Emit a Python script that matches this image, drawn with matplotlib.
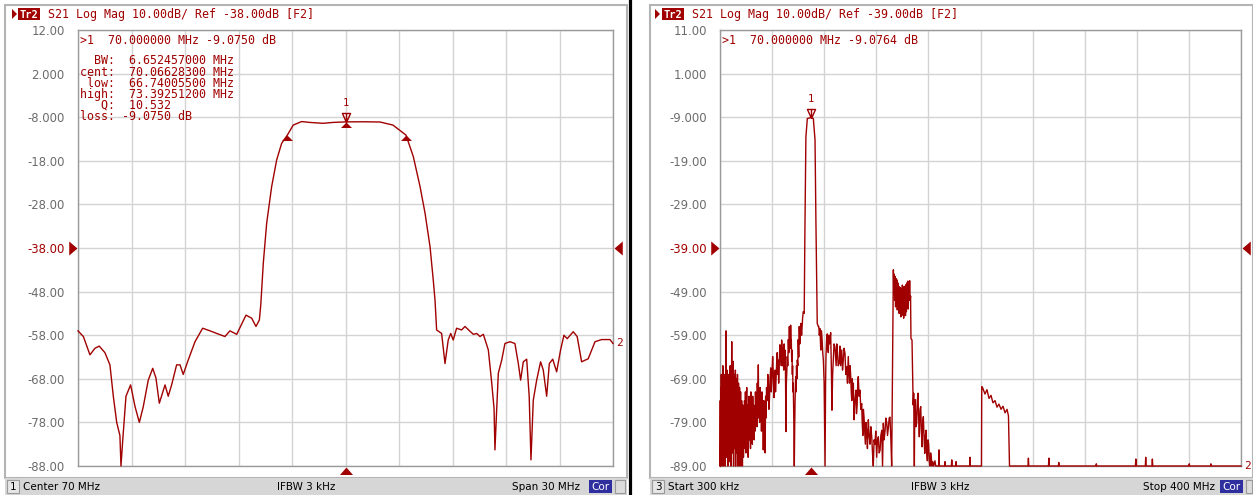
import numpy as np
import matplotlib.pyplot as plt
import matplotlib.transforms as mtransforms
from matplotlib.patches import Rectangle, Polygon
from matplotlib.path import Path

W, H = 1253, 495
RED = '#a00000'
GRAY_TXT = '#6b6b6b'

# ---------------------------------------------------------------
# left screen: S21 around the passband (center 70 MHz, span 30 MHz)
f_left = [55.00, 55.30, 55.67, 55.95, 56.19, 56.51, 56.79, 56.98, 57.17, 57.35,
          57.41, 57.51, 57.69, 57.95, 58.20, 58.44, 58.66, 58.94, 59.19, 59.37,
          59.56, 59.88, 60.06, 60.25, 60.53, 60.72, 60.90, 61.18, 61.56, 61.99,
          62.40, 62.78, 63.24, 63.52, 63.90, 64.42, 64.74, 64.98, 65.17, 65.25,
          65.39, 65.58, 65.86, 66.14, 66.42, 66.74, 67.07, 67.54, 68.00, 68.74,
          69.30, 70.00, 71.00, 71.93, 72.66, 73.39, 73.80, 74.18, 74.46, 74.74,
          74.92, 75.02, 75.11, 75.39, 75.58, 75.76, 75.90, 76.04, 76.23, 76.51,
          76.70, 76.98, 77.17, 77.36, 77.54, 77.73, 78.01, 78.20, 78.33, 78.38,
          78.48, 78.57, 78.76, 78.94, 79.22, 79.50, 79.69, 79.82, 79.97, 80.16,
          80.30, 80.40, 80.53, 80.72, 80.94, 81.09, 81.28, 81.43, 81.62, 81.84,
          82.06, 82.25, 82.43, 82.77, 82.99, 83.24, 83.61, 83.99, 84.36, 84.83,
          85.00]
s21_left = [-57.0, -58.3, -62.5, -61.0, -60.5, -62.0, -64.8, -72.0, -78.0, -81.0,
            -88.0, -82.0, -72.0, -69.4, -74.4, -78.0, -74.4, -68.3, -65.6, -67.8,
            -73.6, -69.4, -72.0, -69.4, -64.8, -64.8, -67.0, -63.7, -59.5, -56.4,
            -57.0, -57.6, -58.3, -57.0, -57.8, -53.4, -54.1, -56.0, -54.5, -51.0,
            -41.5, -32.3, -23.9, -17.8, -14.0, -12.1, -9.8, -9.0, -9.2, -9.4,
            -9.2, -9.075, -9.05, -9.1, -9.8, -12.1, -17.0, -23.9, -30.0, -37.7,
            -45.3, -50.0, -56.8, -57.6, -64.5, -59.1, -57.6, -59.1, -56.4, -56.8,
            -56.0, -57.1, -57.8, -57.6, -58.3, -57.8, -61.4, -69.0, -74.8, -84.3,
            -74.8, -66.7, -63.7, -59.9, -59.5, -59.9, -64.5, -68.3, -64.1, -63.5,
            -72.0, -86.6, -72.9, -68.3, -64.1, -66.0, -72.0, -64.5, -63.5, -66.4,
            -61.4, -58.0, -58.8, -57.2, -58.3, -64.1, -63.4, -59.5, -59.0, -59.0,
            -59.9]

# right screen: wide sweep 300 kHz .. 400 MHz, (MHz, dB) pairs per region
right_lf_noise = [
    (0.3, -89), (0.5, -74), (0.7, -89), (0.9, -71), (1.1, -86), (1.3, -68), (1.5, -82),
    (1.7, -72), (1.9, -89), (2.1, -70), (2.3, -84), (2.5, -66), (2.7, -79), (2.9, -73),
    (3.1, -89), (3.3, -69), (3.5, -85), (3.7, -72), (3.9, -80), (4.1, -68), (4.3, -89),
    (4.5, -75), (4.7, -70), (4.9, -58), (5.1, -81), (5.3, -69), (5.5, -87), (5.7, -67),
    (5.9, -78), (6.1, -71), (6.3, -89), (6.5, -70), (6.7, -83), (6.9, -68), (7.1, -79),
    (7.3, -72), (7.5, -88), (7.7, -69), (7.9, -77), (8.1, -66), (8.3, -84), (8.5, -70),
    (8.7, -89), (8.9, -67), (9.1, -75), (9.3, -60.5), (9.5, -82), (9.7, -71), (9.9, -86),
    (10.1, -69), (10.3, -77), (10.5, -65), (10.7, -89), (10.9, -72), (11.1, -80),
    (11.3, -68), (11.5, -85), (11.7, -70), (11.9, -78), (12.1, -67), (12.3, -89),
    (12.5, -73), (12.7, -81), (12.9, -69), (13.1, -86), (13.3, -71), (13.5, -77),
    (13.7, -68), (13.9, -89), (14.1, -72), (14.3, -83), (14.5, -70), (14.7, -79),
    (14.9, -73), (15.1, -89), (15.3, -71), (15.5, -84), (15.7, -74), (15.9, -80),
    (16.1, -72), (16.3, -89), (16.5, -76), (16.7, -86), (16.9, -74), (17.1, -82),
    (17.3, -77), (17.5, -89), (17.7, -75), (17.9, -84), (18.1, -79), (18.3, -87),
    (18.5, -78), (18.8, -85),
    (19.1, -74), (19.5, -81), (19.8, -72), (20.2, -86), (20.5, -76), (20.8, -71),
    (21.2, -84), (21.6, -75), (21.9, -87), (22.3, -77), (22.6, -73), (23.0, -83),
    (23.3, -78), (23.7, -85), (24.0, -72), (24.4, -80), (24.7, -75), (25.1, -84),
    (25.4, -73), (25.8, -79), (26.1, -75), (26.5, -83), (26.8, -77), (27.2, -81),
    (27.5, -72), (27.9, -78), (28.2, -74), (28.6, -80), (28.9, -70), (29.3, -76),
    (29.7, -65.8), (30.0, -78), (30.4, -72), (30.7, -79), (31.1, -71), (31.4, -77),
    (31.8, -73), (32.1, -81), (32.5, -72), (32.8, -78), (33.2, -75), (33.5, -85.3),
    (33.9, -74), (34.2, -80), (34.6, -76), (34.9, -86), (35.3, -73), (35.6, -78),
    (36.0, -71),
    (36.6, -74), (37.0, -68), (37.4, -70), (37.8, -76), (38.2, -74), (38.7, -69),
    (39.2, -66.5), (39.6, -72), (40.0, -70), (40.4, -66), (40.7, -63.9), (41.2, -68),
    (41.7, -73.3), (42.1, -68), (42.5, -67), (42.9, -72), (43.3, -69.2), (43.8, -65),
    (44.2, -63), (44.6, -68), (45.0, -64.7), (45.3, -70), (45.6, -67), (46.0, -63),
    (46.3, -61.2), (46.7, -65), (47.0, -63), (47.3, -66), (47.6, -60.1), (48.0, -63),
    (48.3, -66), (48.6, -62), (48.9, -64.7), (49.2, -67), (49.5, -61), (49.9, -65),
    (50.2, -62.4), (50.5, -66), (50.9, -81.1), (51.2, -70), (51.5, -68), (51.9, -63.9),
    (52.3, -66), (52.7, -60), (53.1, -63), (53.5, -57.0), (53.8, -61), (54.0, -59),
    (54.3, -62), (54.5, -56.7), (54.8, -61), (55.0, -60), (55.3, -65), (55.5, -62.4),
    (55.8, -68), (56.0, -66), (56.3, -72), (56.5, -70), (56.9, -78), (57.3, -89),
    (57.6, -80), (57.9, -74), (58.2, -70), (58.4, -68.5), (58.7, -72), (59.0, -66),
    (59.3, -69), (59.6, -64.7), (60.0, -66), (60.3, -60), (60.7, -64), (61.1, -57),
    (61.5, -61), (61.8, -59), (62.1, -57.5), (62.4, -56.3), (62.9, -59), (63.3, -57),
    (63.7, -55), (64.2, -53.6),
]
right_passband = [
    (64.9, -54), (65.4, -36.4), (66.2, -13.5), (67.3, -9.3), (68.5, -9.2), (70.0, -9.08),
    (71.0, -9.2), (71.9, -9.3), (73.2, -14.2), (73.9, -33.3), (74.9, -56.3), (75.7, -57),
]
right_mid_noise = [
    (76.1, -57), (76.5, -59), (77.0, -57.5), (77.6, -62.4), (78.1, -58), (78.6, -59.8),
    (79.1, -63), (79.6, -64.7), (80.2, -70), (80.9, -89), (81.3, -70), (81.6, -63.9),
    (82.1, -60), (82.6, -58.7), (83.0, -62), (83.4, -63), (83.8, -59), (84.2, -61),
    (84.7, -60), (85.2, -58.4), (85.7, -66), (86.2, -76.2), (86.7, -68), (87.2, -64.7),
    (87.8, -61), (88.5, -61.7), (89.0, -64), (89.4, -66), (89.9, -61), (90.3, -62.4),
    (91.0, -66), (91.8, -65.4), (92.3, -61.5), (92.9, -66), (93.7, -62.4), (94.3, -67),
    (94.9, -64.7), (95.5, -62), (96.2, -63.2), (96.8, -68), (97.5, -66.2), (98.1, -70),
    (98.7, -63.9), (99.2, -67), (99.6, -70), (100.1, -66), (100.6, -68.5), (101.0, -72),
    (101.4, -74), (101.8, -69), (102.1, -73.1), (102.6, -70), (103.1, -78.4), (103.8, -74),
    (104.6, -71.6), (105.0, -77), (105.5, -75), (106.0, -70), (106.4, -68.5), (107.0, -73),
    (107.7, -71.6), (108.3, -76), (109.0, -74.7), (109.4, -79), (109.9, -82), (110.3, -76),
    (110.8, -77.8), (111.3, -81), (111.8, -84), (112.3, -79), (112.8, -80.8), (113.4, -85),
    (114.1, -78.4), (114.7, -82), (115.4, -84.0), (116.0, -80), (116.7, -82.3),
    (117.3, -86), (117.9, -89), (118.5, -83), (119.2, -84), (119.8, -81), (120.5, -87),
    (121.1, -83), (121.8, -82.3), (122.4, -86), (123.1, -85.4), (123.7, -82),
    (124.4, -80.8), (125.0, -89), (125.6, -79.2), (126.2, -83), (126.9, -81.1),
    (127.5, -78), (128.2, -79), (128.8, -82), (129.5, -80.1), (130.1, -78), (130.7, -77.8),
    (131.4, -83), (132.0, -89), (132.8, -63),
]
right_band2 = [
    (133.3, -44.0), (133.6, -49), (134.0, -45), (134.3, -51), (134.6, -45.5), (135.0, -52.5),
    (135.3, -46), (135.6, -50), (136.0, -46.3), (136.3, -53.2), (136.7, -47), (137.0, -51),
    (137.4, -47.8), (137.7, -54), (138.1, -48), (138.4, -52), (138.8, -48.2), (139.1, -54.8),
    (139.5, -48.6), (139.8, -53), (140.2, -47.5), (140.5, -54.4), (140.9, -48.6),
    (141.2, -55.1), (141.6, -47.8), (141.9, -52), (142.3, -48), (142.6, -54.5),
    (143.0, -47.4), (143.3, -53.6), (143.7, -47), (144.0, -52), (144.4, -46.6), (144.7, -53),
    (145.1, -47), (145.4, -50.9), (145.8, -46.5), (146.2, -51), (146.5, -50), (146.8, -59.8),
    (147.6, -60.1), (148.1, -69.2), (148.5, -75), (148.9, -72.3), (149.4, -89), (149.7, -76),
    (150.1, -73.8), (150.6, -80), (151.2, -79.2), (151.7, -74), (152.2, -72.3), (152.7, -78),
    (153.2, -82.3), (153.8, -76), (154.3, -75.4), (154.8, -81), (155.3, -84.6), (155.8, -79),
    (156.3, -77.7), (156.9, -83), (157.4, -86.1), (157.9, -82), (158.4, -80.8), (158.9, -86),
    (159.4, -87.8), (159.9, -83), (160.4, -84), (160.9, -88), (161.4, -89), (161.9, -86),
    (162.4, -87.1), (163.0, -89), (163.5, -88), (164.2, -89), (165.2, -87.8), (165.8, -89),
]
right_band3 = [
    (168.0, -89), (168.3, -85.3), (168.6, -89), (172.6, -89), (172.9, -88), (173.2, -89),
    (177.8, -89), (178.1, -87.6), (178.4, -89), (181.1, -89), (181.4, -88), (181.7, -89),
    (191.8, -89), (192.1, -87), (192.4, -89), (200.9, -89),
    (201.1, -70.8), (201.7, -71.0), (203.6, -72.5), (205.1, -71.5), (206.7, -73.5),
    (208.2, -72.8), (209.7, -74.5), (211.3, -74.0), (212.8, -75.5), (214.3, -74.8),
    (215.9, -76.0), (217.4, -75.3), (219.0, -76.8), (220.5, -76.0), (221.6, -77.5),
    (222.4, -89),
]
right_spurs = [
    (236.6, -89), (236.9, -87.2), (237.2, -89), (252.3, -89), (252.6, -87.2), (252.9, -89),
    (259.9, -89), (260.2, -88.2), (260.5, -89), (288.7, -89), (289.0, -88.5), (289.3, -89),
    (319.0, -89), (319.3, -87.4), (319.6, -89), (326.6, -89), (326.9, -87.0), (327.2, -89),
    (331.7, -89), (332.0, -87.4), (332.3, -89), (360.0, -89), (360.3, -88.5), (360.6, -89),
    (376.6, -89), (376.9, -88.5), (377.2, -89), (400.0, -89),
]
right_trace = (right_lf_noise + right_passband + right_mid_noise
               + right_band2 + right_band3 + right_spurs)
f_right = [p[0] for p in right_trace]
s21_right = [p[1] for p in right_trace]

# marker / readout values
mk1_freq = 70.0
mk1_left_val = -9.0750
mk1_right_val = -9.0764
bw_labels = ['BW', 'cent', 'low', 'high', 'Q', 'loss']
bw_values = ['6.652457000 MHz', '70.06628300 MHz', '66.74005500 MHz',
             '73.39251200 MHz', '10.532', '-9.0750 dB']
bw_edge_freqs = [66.740055, 73.392512]
bw_edge_vals = [-12.075, -12.075]

ref_left, ref_right = -38.0, -39.0
scale_db = 10.0


def px_rect(x0, y0, x1, y1):
    return [x0 / W, 1 - y1 / H, (x1 - x0) / W, (y1 - y0) / H]


def fmt4(v):
    return f'{v:.3f}' if abs(v) < 10 else f'{v:.2f}'


# marker shapes
tri_up = Path([(0, 0), (-1, -1), (1, -1), (0, 0)],
              [Path.MOVETO, Path.LINETO, Path.LINETO, Path.CLOSEPOLY])
tri_stim = Path([(0, 0), (-0.87, -1), (0.87, -1), (0, 0)],
                [Path.MOVETO, Path.LINETO, Path.LINETO, Path.CLOSEPOLY])
tri_dn_open = Path([(0, 0), (-0.45, 1), (0.45, 1), (0, 0), (0, 0.2), (0, 1)],
                   [Path.MOVETO, Path.LINETO, Path.LINETO, Path.LINETO,
                    Path.MOVETO, Path.LINETO])
arrow_r = Path([(0, 0), (-1, 0.85), (-1, -0.85), (0, 0)],
               [Path.MOVETO, Path.LINETO, Path.LINETO, Path.CLOSEPOLY])
arrow_l = Path([(0, 0), (1, 0.85), (1, -0.85), (0, 0)],
               [Path.MOVETO, Path.LINETO, Path.LINETO, Path.CLOSEPOLY])

fig = plt.figure(figsize=(W / 100, H / 100), dpi=100)

# background layer in pixel coordinates (y downwards)
bg = fig.add_axes([0, 0, 1, 1], zorder=0)
bg.set_xlim(0, W)
bg.set_ylim(H, 0)
bg.axis('off')

panels = [
    dict(x0=5, x1=627, tri=12, tr=18, hdr=48, ref=ref_left, status='1',
         s_left='Center 70 MHz', s_mid='IFBW 3 kHz', s_right='Span 30 MHz',
         mid_x=306, right_x=580, cor=589),
    dict(x0=650, x1=1253, tri=655, tr=662, hdr=692, ref=ref_right, status='3',
         s_left='Start 300 kHz', s_mid='IFBW 3 kHz', s_right='Stop 400 MHz',
         mid_x=940, right_x=1215, cor=1220),
]

for p in panels:
    bg.add_patch(Rectangle((p['x0'], 5), p['x1'] - p['x0'], 473,
                           fc='white', ec='#b4b4b4', lw=1.5))
    bg.add_patch(Rectangle((p['x0'], 478), p['x1'] - p['x0'], 17,
                           fc='#d6d6d6', ec='none'))
    # header
    t = p['tri']
    bg.add_patch(Polygon([(t, 9), (t, 19), (t + 5, 14)], closed=True, fc=RED, ec='none'))
    bg.add_patch(Rectangle((p['tr'], 8), 22, 12, fc=RED, ec='none'))
    bg.text(p['tr'] + 11, 14.5, 'Tr2', color='white', fontsize=7.5,
            family='DejaVu Sans Mono', weight='bold', ha='center', va='center')
    bg.text(p['hdr'], 14.5,
            f"S21 Log Mag {scale_db:.2f}dB/ Ref {p['ref']:.2f}dB [F2]",
            color=RED, fontsize=8.4, family='DejaVu Sans Mono', ha='left', va='center')
    # status bar
    bx = p['x0'] + 2
    bg.add_patch(Rectangle((bx, 480), 12, 13, fc='#e6e6e6', ec='#9a9a9a', lw=0.8))
    bg.text(bx + 6, 487, p['status'], fontsize=7.5, ha='center', va='center')
    bg.text(bx + 16, 487, p['s_left'], fontsize=7.5, ha='left', va='center')
    bg.text(p['mid_x'], 487, p['s_mid'], fontsize=7.5, ha='center', va='center')
    bg.text(p['right_x'], 487, p['s_right'], fontsize=7.5, ha='right', va='center')
    bg.add_patch(Rectangle((p['cor'], 480), 23, 13, fc='#2e2e9e', ec='none'))
    bg.text(p['cor'] + 11.5, 487, 'Cor', color='white', fontsize=7.5,
            ha='center', va='center')
    bg.add_patch(Rectangle((p['cor'] + 26, 480), min(10, p['x1'] - p['cor'] - 27), 13,
                           fc='#dcdcdc', ec='#9a9a9a', lw=0.8))

bg.plot([629.5, 629.5], [0, H], color='black', lw=2.3)


def draw_screen(rect, f, s, xlim, ref, stim_freq):
    ax = fig.add_axes(px_rect(*rect), zorder=1)
    ax.set_facecolor('white')
    ax.set_xlim(*xlim)
    ax.set_ylim(ref - 5 * scale_db, ref + 5 * scale_db)
    levels = ref + scale_db * np.arange(-5, 6)
    ax.set_yticks(levels)
    ax.set_yticklabels([fmt4(v) for v in levels])
    ax.set_xticks(np.linspace(xlim[0], xlim[1], 11))
    ax.set_xticklabels([])
    ax.tick_params(length=0, pad=9.5, labelsize=8.4, labelcolor=GRAY_TXT)
    for lab, v in zip(ax.get_yticklabels(), levels):
        if v == ref:
            lab.set_color(RED)
    ax.grid(True, color='#d3d3d3', lw=1.0)
    ax.set_axisbelow(True)
    for sp in ax.spines.values():
        sp.set_color('#9a9a9a')
        sp.set_linewidth(1.0)

    ax.plot(f, s, color=RED, lw=1.0, clip_on=False, zorder=3)

    # trace label at the end of the sweep
    ax.annotate('2', (f[-1], s[-1]), xytext=(3, 0), textcoords='offset pixels',
                color=RED, fontsize=8, family='DejaVu Sans Mono',
                ha='left', va='center', annotation_clip=False)

    # reference level arrows
    ty = mtransforms.blended_transform_factory(ax.transAxes, ax.transData)
    ax.plot([0], [ref], marker=arrow_r, ms=11.9, color=RED, mew=0,
            transform=mtransforms.offset_copy(ty, fig=fig, x=-1, y=0, units='dots'),
            clip_on=False)
    ax.plot([1], [ref], marker=arrow_l, ms=11.9, color=RED, mew=0,
            transform=mtransforms.offset_copy(ty, fig=fig, x=1, y=0, units='dots'),
            clip_on=False)
    # stimulus marker below the grid
    tx = mtransforms.blended_transform_factory(ax.transData, ax.transAxes)
    ax.plot([stim_freq], [0], marker=tri_stim, ms=10.8, color=RED, mew=0,
            transform=mtransforms.offset_copy(tx, fig=fig, x=0, y=-1, units='dots'),
            clip_on=False)
    return ax


axL = draw_screen((78, 30, 613, 466), f_left, s21_left, (55, 85), ref_left, mk1_freq)
axR = draw_screen((720, 30, 1241, 466), f_right, s21_right, (0.3, 400), ref_right, mk1_freq)

# marker 1 on both screens
for ax, val in [(axL, mk1_left_val), (axR, mk1_right_val)]:
    ax.plot([mk1_freq], [val], marker=tri_dn_open, ms=13, mfc='none', mec=RED,
            mew=1.0, color=RED, ls='none', clip_on=False, zorder=4)
    ax.annotate('1', (mk1_freq, val), xytext=(0, 19), textcoords='offset pixels',
                color=RED, fontsize=7.5, family='DejaVu Sans Mono',
                ha='center', va='center', annotation_clip=False)

# bandwidth search markers on the left screen
axL.plot([mk1_freq] + bw_edge_freqs, [mk1_left_val] + bw_edge_vals, ls='none',
         marker=tri_up, ms=7.9, color=RED, mew=0, zorder=4, clip_on=False)


# readouts (figure texts sit above the plot axes)
def fig_text(x, y, s):
    fig.text(x / W, 1 - y / H, s, color=RED, fontsize=8.4,
             family='DejaVu Sans Mono', ha='left', va='center')


fig_text(80, 41, f'>1  {mk1_freq:.6f} MHz {mk1_left_val:.4f} dB')
fig_text(722, 41, f'>1  {mk1_freq:.6f} MHz {mk1_right_val:.4f} dB')
for i, (lab, val) in enumerate(zip(bw_labels, bw_values)):
    sep = ' ' if val.startswith('-') else '  '
    fig_text(80, 61 + i * 11.1, f'{lab + ":":>5}{sep}{val}')

fig.savefig('out.png', dpi=100)
